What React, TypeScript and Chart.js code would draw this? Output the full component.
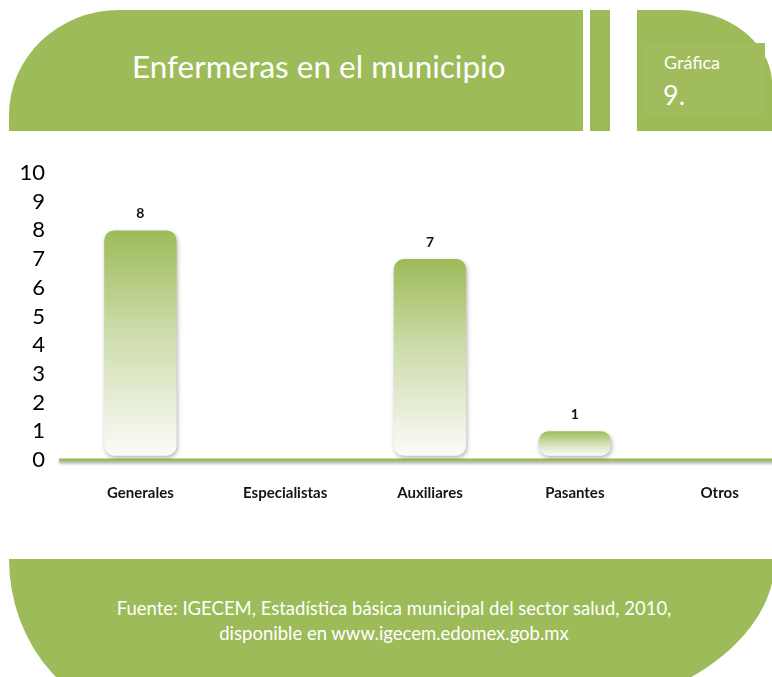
import React, { useEffect, useRef } from "react";
import { Chart, registerables } from "chart.js";

Chart.register(...registerables);

const categories = ["Generales", "Especialistas", "Auxiliares", "Pasantes", "Otros"];
const values = [8, 0, 7, 1, 0];
const yMin = 0;
const yMax = 10;
const yStep = 1;
const titleText = "Enfermeras en el municipio";
const badgeLabel = "Gráfica";
const badgeNumber = "9.";
const sourceLine1 = "Fuente: IGECEM, Estadística básica municipal del sector salud, 2010,";
const sourceLine2 = "disponible en www.igecem.edomex.gob.mx";

const GREEN = "#9dbb59";
const FONT = "Lato, 'Noto Sans', sans-serif";
const BAR_BASE = 0.15;

const barDecor = {
  id: "barDecor",
  beforeDatasetsDraw(chart: any) {
    const { ctx, chartArea, scales } = chart;
    const y0 = scales.y.getPixelForValue(0);
    ctx.save();
    ctx.shadowColor = "rgba(0,0,0,0.35)";
    ctx.shadowBlur = 3;
    ctx.shadowOffsetY = 2;
    ctx.strokeStyle = GREEN;
    ctx.lineWidth = 3;
    ctx.beginPath();
    ctx.moveTo(chartArea.left - 9, y0);
    ctx.lineTo(chartArea.right, y0);
    ctx.stroke();
    ctx.restore();
  },
  beforeDatasetDraw(chart: any) {
    const ctx = chart.ctx;
    ctx.save();
    ctx.shadowColor = "rgba(0,0,0,0.3)";
    ctx.shadowBlur = 4;
    ctx.shadowOffsetX = 1;
    ctx.shadowOffsetY = 2;
  },
  afterDatasetDraw(chart: any) {
    chart.ctx.restore();
  },
  afterDatasetsDraw(chart: any) {
    const { ctx } = chart;
    const meta = chart.getDatasetMeta(0);
    ctx.save();
    ctx.fillStyle = "#111";
    ctx.font = "bold 14px " + FONT;
    ctx.textAlign = "center";
    ctx.textBaseline = "middle";
    meta.data.forEach((el: any, i: number) => {
      const v = values[i];
      if (!v) return;
      ctx.fillText(String(v), el.x, el.y - 17);
    });
    ctx.restore();
  },
};

function ChartCanvas() {
  const ref = useRef<HTMLCanvasElement | null>(null);
  useEffect(() => {
    if (!ref.current) return;
    const chart = new Chart(ref.current, {
      type: "bar",
      data: {
        labels: categories,
        datasets: [
          {
            data: values,
            base: BAR_BASE,
            backgroundColor: (c: any) => {
              const ch = c.chart;
              if (c.type !== "data") return GREEN;
              if (!c.raw) return "rgba(0,0,0,0)";
              if (!ch.chartArea) return GREEN;
              const ys = ch.scales.y;
              const top = ys.getPixelForValue(c.raw);
              const bottom = ys.getPixelForValue(BAR_BASE);
              if (!isFinite(top) || top >= bottom) return GREEN;
              const g = ch.ctx.createLinearGradient(0, top, 0, bottom);
              g.addColorStop(0, "#9dbb59");
              g.addColorStop(0.45, "#cddcaa");
              g.addColorStop(1, "#fbfbf9");
              return g;
            },
            borderWidth: 0,
            borderRadius: 10,
            borderSkipped: false,
            categoryPercentage: 1,
            barPercentage: 0.5,
          },
        ],
      },
      options: {
        responsive: false,
        animation: false,
        events: [],
        layout: { padding: { top: 23, left: 0, right: 8, bottom: 0 } },
        plugins: {
          legend: { display: false },
          tooltip: { enabled: false },
          title: { display: false },
        },
        scales: {
          x: {
            grid: { display: false, drawTicks: false, tickLength: 0 },
            border: { display: false },
            ticks: {
              color: "#141414",
              font: { family: FONT, size: 15, weight: "bold" },
              padding: 24,
              maxRotation: 0,
              autoSkip: false,
            },
            afterFit: (s: any) => {
              s.height = 60;
              s.paddingLeft = 0;
              s.paddingRight = 0;
            },
          },
          y: {
            min: yMin,
            max: yMax,
            grid: { display: false, drawTicks: false, tickLength: 0 },
            border: { display: false },
            ticks: {
              stepSize: yStep,
              autoSkip: false,
              color: "#000",
              font: { family: FONT, size: 22 },
              padding: 23,
            },
            afterFit: (s: any) => {
              s.width = 68;
              s.paddingTop = 0;
              s.paddingBottom = 0;
            },
          },
        },
      },
      plugins: [barDecor],
    });
    return () => chart.destroy();
  }, []);
  return (
    <canvas
      ref={ref}
      width={800}
      height={370}
      style={{ position: "absolute", left: 0, top: 150, width: 800, height: 370 }}
    />
  );
}

export default function App() {
  return (
    <div
      style={{
        position: "fixed",
        left: 0,
        top: 0,
        width: 772,
        height: 677,
        overflow: "hidden",
        background: "#fff",
        fontFamily: FONT,
      }}
    >
      <svg
        width={772}
        height={677}
        style={{ position: "absolute", left: 0, top: 0 }}
      >
        {/* header main */}
        <path d="M9,131 L9,115 A110,105 0 0 1 119,10 L583,10 L583,131 Z" fill={GREEN} />
        <rect x={590} y={10} width={20} height={121} fill={GREEN} />
        {/* badge */}
        <path d="M637,131 L637,10 L680,10 A95,75 0 0 1 772,80 L772,131 Z" fill={GREEN} />
        <rect x={643} y={43} width={122} height={72} fill="#a0bc5c" />
        {/* footer */}
        <path
          d="M9,559 L775,559 A258,160 0 0 1 517,719 L154,719 A145,160 0 0 1 9,559 Z"
          fill={GREEN}
        />
      </svg>
      <div
        style={{
          position: "absolute",
          left: 132,
          top: 44,
          width: 400,
          color: "#fff",
          fontSize: 31.5,
          lineHeight: "44px",
          whiteSpace: "nowrap",
        }}
      >
        {titleText}
      </div>
      <div
        style={{
          position: "absolute",
          left: 664,
          top: 50,
          color: "#fff",
          fontSize: 18,
          lineHeight: "24px",
        }}
      >
        {badgeLabel}
      </div>
      <div
        style={{
          position: "absolute",
          left: 663,
          top: 78,
          color: "#fff",
          fontSize: 27,
          lineHeight: "34px",
        }}
      >
        {badgeNumber}
      </div>

      <ChartCanvas />

      <div
        style={{
          position: "absolute",
          left: 0,
          top: 596,
          width: 788,
          textAlign: "center",
          color: "#fff",
          fontSize: 18.5,
          lineHeight: "25px",
          whiteSpace: "nowrap",
        }}
      >
        <div>{sourceLine1}</div>
        <div>{sourceLine2}</div>
      </div>
    </div>
  );
}
